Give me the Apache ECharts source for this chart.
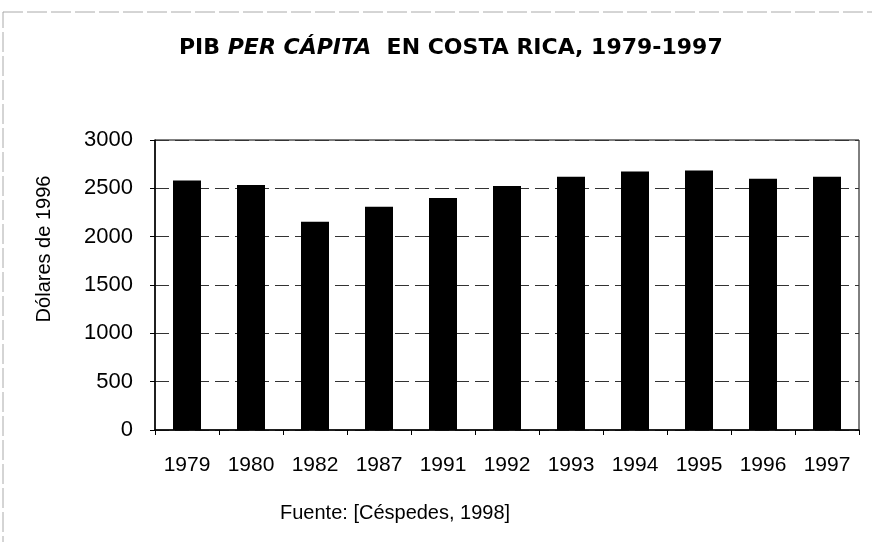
<!DOCTYPE html>
<html>
<head>
<meta charset="utf-8">
<title>PIB per cápita en Costa Rica</title>
<script src="https://cdn.jsdelivr.net/npm/echarts@6/dist/echarts.min.js"></script>
<style>
    html, body { margin: 0; padding: 0; background: #fff; }
    #pibChart { width: 872px; height: 542px; }
</style>
</head>
<body>
<div id="pibChart"></div>
<script>
// datos
var anios = ['1979', '1980', '1982', '1987', '1991', '1992', '1993', '1994', '1995', '1996', '1997'];
var pibPerCapita = [2580, 2535, 2155, 2310, 2400, 2525, 2620, 2675, 2685, 2600, 2620];
var ejeY = { min: 0, max: 3000, interval: 500 };

window.onload = function(){
    pibChart();
};

//PIB per capita
function pibChart(){
    var chart = echarts.init(document.getElementById('pibChart'));
    var font = '"Liberation Sans", Arial, sans-serif';
    var fontTit = '"DejaVu Sans", sans-serif';
    var option = {
        animation: false,
        backgroundColor: '#fff',
        title: {
            text: '{b|PIB }{bi|PER CÁPITA}{b|  EN COSTA RICA, 1979-1997}',
            left: 174,
            top: 32,
            textStyle: {
                rich: {
                    b: { fontFamily: fontTit, fontSize: 22, fontWeight: 'bold', color: '#000' },
                    bi: { fontFamily: fontTit, fontSize: 22, fontWeight: 'bold', fontStyle: 'italic', color: '#000' }
                }
            }
        },
        grid: {
            left: 155,
            right: 13,
            top: 140,
            bottom: 112,
            show: true,
            borderColor: '#000',
            borderWidth: 1
        },
        xAxis: {
            type: 'category',
            data: anios,
            axisLine: { lineStyle: { color: '#000', width: 1.5 } },
            axisTick: { show: true, length: 5, lineStyle: { color: '#000' } },
            axisLabel: { color: '#000', fontFamily: font, fontSize: 21, margin: 25 }
        },
        yAxis: {
            type: 'value',
            min: ejeY.min,
            max: ejeY.max,
            interval: ejeY.interval,
            axisLine: { show: true, lineStyle: { color: '#000', width: 1.5 } },
            axisTick: { show: true, length: 5, lineStyle: { color: '#000' } },
            axisLabel: {
                color: '#000', fontFamily: font, fontSize: 22, margin: 22,
                formatter: function(v){ return String(v); }
            },
            splitLine: { show: true, lineStyle: { color: '#333', type: [14, 6], width: 1 } }
        },
        series: [
            {
                name: 'PIB per cápita',
                type: 'bar',
                data: pibPerCapita,
                barWidth: 28,
                itemStyle: { color: '#000' }
            }
        ],
        graphic: [
            {
                type: 'rect',
                shape: { x: 3, y: 12, width: 900, height: 560 },
                style: { fill: null, stroke: '#aaa', lineWidth: 1, lineDash: [20, 4] },
                silent: true
            },
            {
                type: 'text',
                x: 44,
                y: 249,
                rotation: Math.PI / 2,
                style: {
                    text: 'Dólares de 1996',
                    font: '20px ' + font,
                    fill: '#000',
                    textAlign: 'center',
                    textVerticalAlign: 'middle'
                }
            },
            {
                type: 'text',
                left: 280,
                top: 503,
                style: {
                    text: 'Fuente: [Céspedes, 1998]',
                    font: '20px ' + font,
                    fill: '#000'
                }
            }
        ]
    };
    chart.setOption(option);
}
</script>
</body>
</html>
